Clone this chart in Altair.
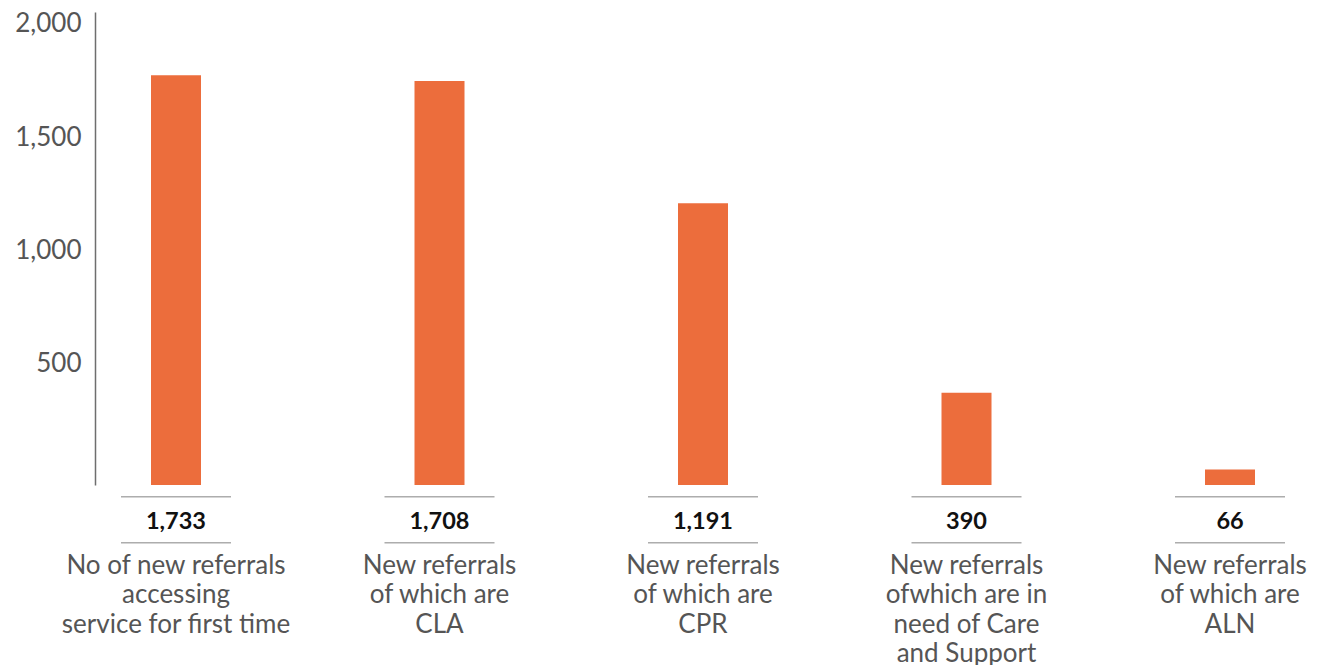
import altair as alt
import pandas as pd

categories = [
    "No of new referrals|accessing|service for first time",
    "New referrals|of which are|CLA",
    "New referrals|of which are|CPR",
    "New referrals|ofwhich are in|need of Care|and Support",
    "New referrals|of which are|ALN",
]
values = [1733, 1708, 1191, 390, 66]
y_ticks = [500, 1000, 1500, 2000]

df = pd.DataFrame({"cat": categories, "value": values})

FONT = "Lato"
BAR = "#EC6D3C"
GREY = "#555555"

xscale = alt.Scale(domain=categories, range=[-50.75, 1266.75], paddingInner=0, paddingOuter=0)
x_enc = alt.X("cat:N", scale=xscale, sort=categories,
              axis=alt.Axis(title=None, domain=False, ticks=False, labelAngle=0,
                            labelAlign="center",
                            labelExpr="split(datum.label, '|')", labelFontSize=26,
                            labelColor=GREY, labelFont=FONT, labelLineHeight=29.5,
                            labelPadding=67, labelBaseline="top", labelLimit=0,
                            labelOverlap=False, labelBound=False))
x_plain = alt.X("cat:N", scale=xscale, sort=categories)

base = alt.Chart(df)

axis_layer = base.mark_bar(opacity=0).encode(
    x=x_plain,
    y=alt.Y("value:Q", scale=alt.Scale(domain=[-34.8, 2051.8], nice=False, zero=False),
            axis=alt.Axis(title=None, values=y_ticks, format=",.0f", ticks=False, grid=False,
                          domainColor="#6e6e6e", domainWidth=1.5, labelFontSize=26,
                          labelColor=GREY, labelFont=FONT, labelPadding=14)),
)

bars = base.mark_bar(color=BAR, size=50).encode(
    x=x_enc,
    y=alt.Y("value:Q", scale=alt.Scale(domain=[0, 2000], nice=False), axis=None),
)

rule_top = base.mark_tick(orient="horizontal", size=110, thickness=1.6, color="#8a8a8a").encode(
    x=x_plain, y=alt.value(484.7)
)
rule_bot = base.mark_tick(orient="horizontal", size=110, thickness=1.6, color="#8a8a8a").encode(
    x=x_plain, y=alt.value(530.7)
)
labels = base.mark_text(font=FONT, fontSize=23.5, fontWeight="bold", color="#111111",
                        baseline="middle").encode(
    x=x_plain, y=alt.value(509.7), text=alt.Text("value:Q", format=",")
)

chart = alt.layer(axis_layer, bars, rule_top, rule_bot, labels).resolve_scale(
    y="independent"
).properties(
    width=1215, height=473,
    autosize=alt.AutoSizeParams(type="none"),
    padding={"left": 87, "top": 4, "right": 0, "bottom": 180},
).configure_view(stroke=None)

chart.save("out.html", embed_options={"renderer": "svg", "actions": False})
